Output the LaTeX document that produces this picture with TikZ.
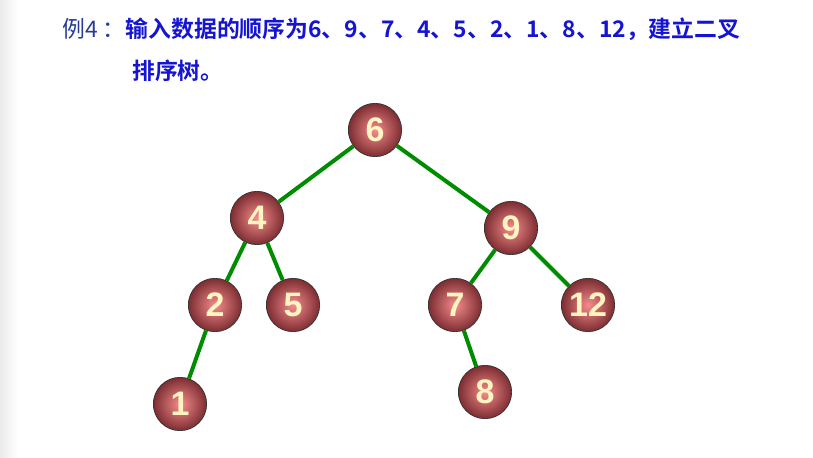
\documentclass[tikz,border=0pt]{standalone}
\usepackage{fontspec}
\setmainfont{Liberation Sans}
\newfontfamily\cjk{Noto Sans CJK SC}
\newfontfamily\cjkbold{Noto Sans CJK SC Bold}
\definecolor{titleblue}{RGB}{20,20,210}
\definecolor{darkblue}{RGB}{40,60,150}
\definecolor{edgegreen}{RGB}{0,140,0}
\definecolor{ballpink}{RGB}{245,140,140}
\definecolor{ballred}{RGB}{125,45,50}
\definecolor{numcolor}{RGB}{255,245,195}
\begin{document}
\begin{tikzpicture}[x=0.03cm, y=-0.03cm]
    \tikzstyle{ball} = [circle, draw=black!80, line width=0.6pt, inner color=ballpink, outer color=ballred, minimum size=1.6cm, inner sep=0pt, text=numcolor, font=\fontsize{29}{31}\selectfont\bfseries]
    \tikzstyle{link} = [draw=edgegreen, line width=3.4pt]

    \useasboundingbox (0,0) rectangle (813,458);
    \fill[left color=black!8, right color=white] (0,0) rectangle (18,458);

    % title
    \node [anchor=base west, inner sep=0pt, font=\fontsize{19.5}{22}\selectfont] (title1) at (62,38) {\textcolor{darkblue}{\cjk 例4 ：}\textcolor{titleblue}{\cjkbold 输入数据的顺序为6、9、7、4、5、2、1、8、12，建立二叉}};
    \node [anchor=base west, inner sep=0pt, font=\cjkbold\fontsize{19.5}{22}\selectfont, text=titleblue] (title2) at (132,80) {排序树。};

    % tree
    \node [ball] (n6) at (375,130) {6};
    \node [ball] (n4) at (257,218) {4};
    \node [ball] (n9) at (511,228) {9};
    \node [ball] (n2) at (215,305) {2};
    \node [ball] (n5) at (293,305) {5};
    \node [ball] (n7) at (455,305) {7};
    \node [ball] (n12) at (588,305) {12};
    \node [ball] (n1) at (180,404) {1};
    \node [ball] (n8) at (485,392) {8};

    \foreach \a/\b in {n6/n4, n6/n9, n4/n2, n4/n5, n9/n7, n9/n12, n2/n1, n7/n8}
        \path [link] (\a) -- (\b);
\end{tikzpicture}
\end{document}
